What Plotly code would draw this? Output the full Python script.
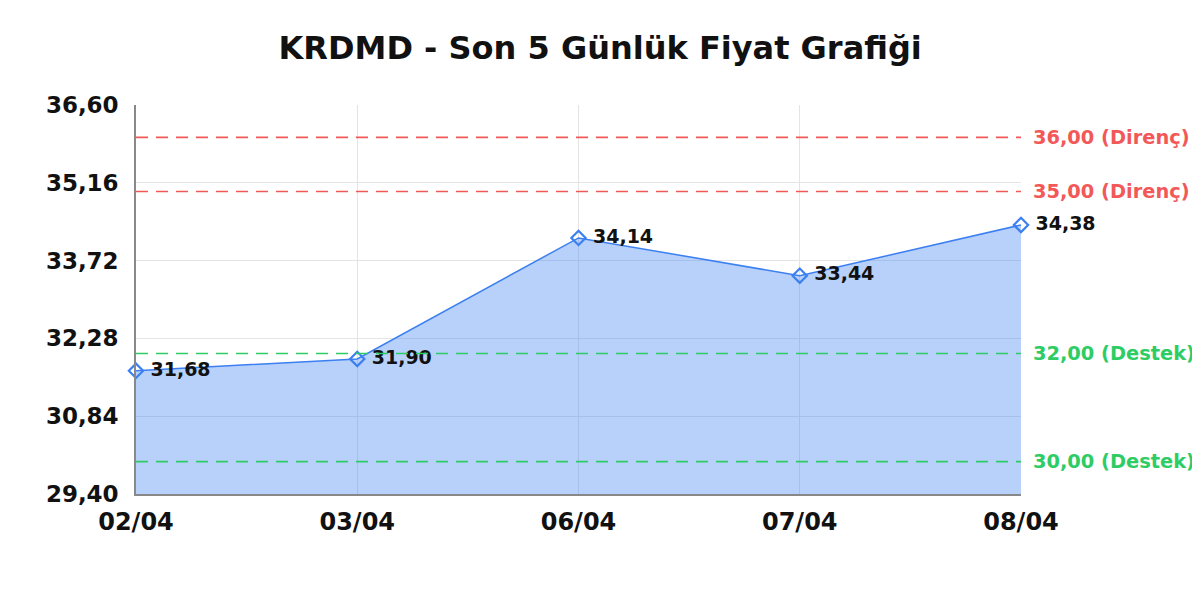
import plotly.graph_objects as go

dates = ["02/04", "03/04", "06/04", "07/04", "08/04"]
prices = [31.68, 31.90, 34.14, 33.44, 34.38]
y_ticks = [29.40, 30.84, 32.28, 33.72, 35.16, 36.60]
resistance = [36.00, 35.00]
support = [32.00, 30.00]

FONT = "DejaVu Sans"
BLUE = "#3b7ff0"
RED = "#f25858"
GREEN = "#2ecc65"

def fmt(v):
    return f"{v:.2f}".replace(".", ",")

fig = go.Figure()
fig.add_trace(go.Scatter(
    x=list(range(len(dates))), y=prices,
    mode="lines+markers+text",
    fill="tozeroy",
    fillcolor="rgba(66,133,244,0.38)",
    line=dict(color=BLUE, width=1.5),
    marker=dict(symbol="diamond-open", size=11, color=BLUE, line=dict(width=2.2, color=BLUE)),
    text=["\u00a0" + fmt(v) for v in prices],
    textposition="middle right",
    textfont=dict(family=FONT, size=19, color="#111111", weight="bold"),
    hoverinfo="skip",
    cliponaxis=False,
))

shapes = []
annotations = []
for lvl in resistance:
    shapes.append(dict(type="line", xref="paper", x0=0, x1=1, yref="y", y0=lvl, y1=lvl,
                       line=dict(color=RED, width=1.6, dash="12px,8px"), layer="above"))
    annotations.append(dict(xref="paper", x=1.011, yref="y", y=lvl, text=f"{fmt(lvl)} (Direnç)",
                            showarrow=False, xanchor="left", yanchor="middle",
                            font=dict(family=FONT, size=19.4, color=RED, weight="bold")))
for lvl in support:
    shapes.append(dict(type="line", xref="paper", x0=0, x1=1, yref="y", y0=lvl, y1=lvl,
                       line=dict(color=GREEN, width=1.6, dash="12px,8px"), layer="above"))
    annotations.append(dict(xref="paper", x=1.011, yref="y", y=lvl, text=f"{fmt(lvl)} (Destek)",
                            showarrow=False, xanchor="left", yanchor="middle",
                            font=dict(family=FONT, size=19.4, color=GREEN, weight="bold")))

fig.update_layout(
    width=1200, height=600,
    paper_bgcolor="white", plot_bgcolor="white",
    margin=dict(l=128, r=187, t=97, b=114),
    showlegend=False,
    title=dict(text="KRDMD - Son 5 Günlük Fiyat Grafiği", x=0.4935, xanchor="center",
               y=0.933, yanchor="middle",
               font=dict(family=FONT, size=32, color="#111111", weight="bold")),
    xaxis=dict(range=[0, len(dates) - 1], tickvals=list(range(len(dates))), ticktext=dates,
               showgrid=True, gridcolor="#e4e4e4", gridwidth=1,
               showline=True, linecolor="#888888", linewidth=1.5, mirror=False,
               zeroline=False, ticks="", ticklen=0, ticklabelstandoff=5,
               tickfont=dict(family=FONT, size=24, color="#111111", weight="bold")),
    yaxis=dict(range=[y_ticks[0], y_ticks[-1]], tickvals=y_ticks, ticktext=[fmt(v) for v in y_ticks],
               showgrid=True, gridcolor="#e4e4e4", gridwidth=1,
               showline=True, linecolor="#888888", linewidth=1.5,
               zeroline=False, ticks="", ticklen=0, ticklabelstandoff=11,
               tickfont=dict(family=FONT, size=23, color="#111111", weight="bold")),
    shapes=shapes,
    annotations=annotations,
)
fig.write_html("out.html")
